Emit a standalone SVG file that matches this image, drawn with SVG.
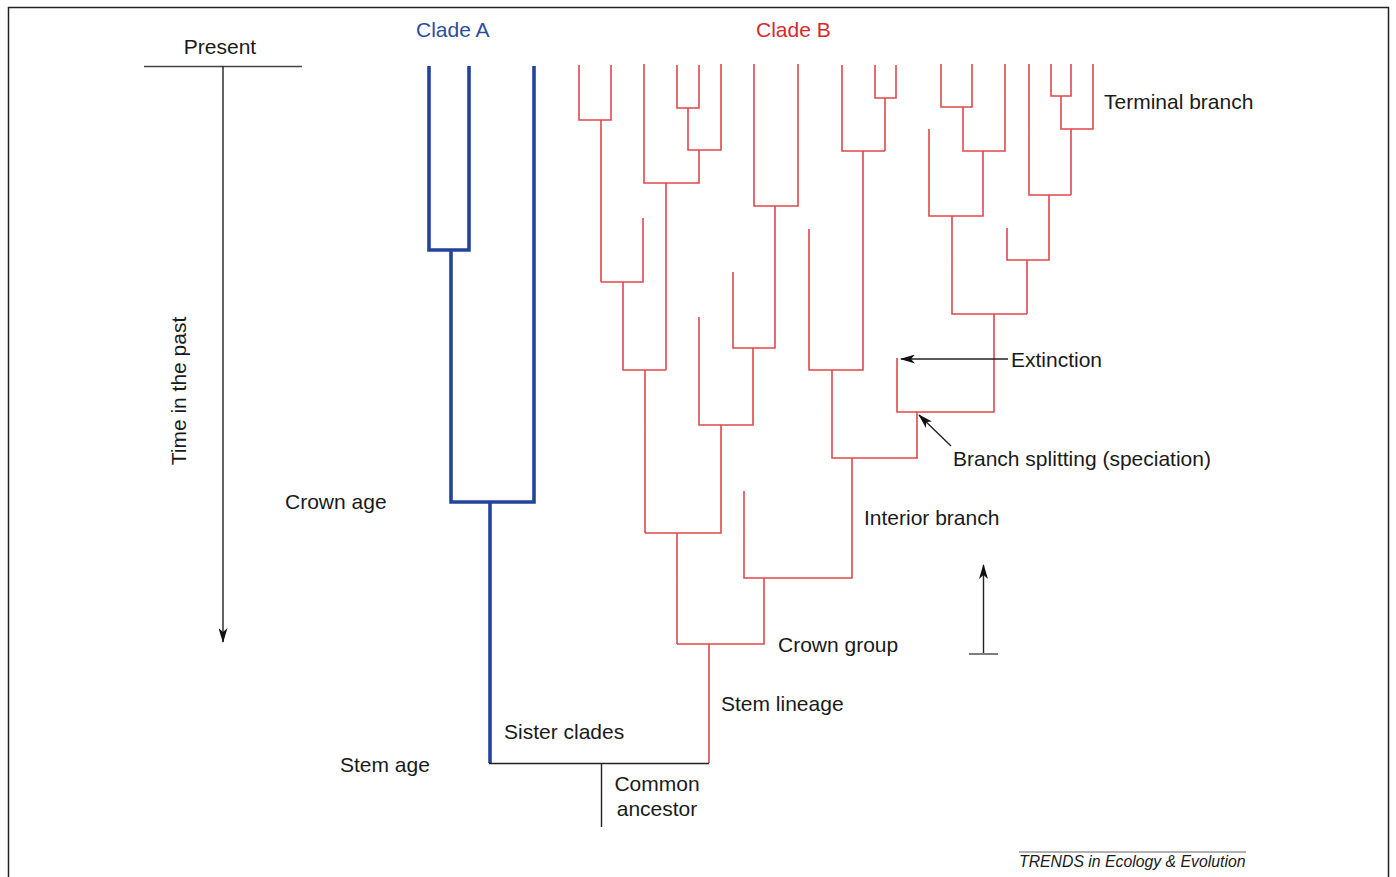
<svg xmlns="http://www.w3.org/2000/svg" width="1396" height="877" viewBox="0 0 1396 877">
<style>
text { font-family: "Liberation Sans", Arial, sans-serif; font-size: 21px; fill: #1a1a1a; }
.red { fill: none; stroke: #e0484c; stroke-width: 1.6; }
.blue { fill: none; stroke: #23449a; stroke-width: 3.6; }
.blk { fill: none; stroke: #222; stroke-width: 1.4; }
.gry { fill: none; stroke: #444; stroke-width: 1.4; }
</style>
<defs>
<marker id="ah" viewBox="0 0 15 9" refX="14" refY="4.5" markerWidth="15" markerHeight="9" markerUnits="userSpaceOnUse" orient="auto">
<path d="M0,0 L15,4.5 L0,9 L4,4.5 Z" fill="#111"/>
</marker>
</defs>
<rect x="0" y="0" width="1396" height="877" fill="#fff"/>
<rect x="8.5" y="7.5" width="1380" height="880" fill="none" stroke="#222" stroke-width="1.5"/>

<g id="time-axis">
<text x="220" y="54" text-anchor="middle">Present</text>
<line class="gry" x1="144" y1="66.5" x2="302" y2="66.5"/>
<line class="blk" x1="223" y1="66" x2="223" y2="642" marker-end="url(#ah)"/>
<text transform="translate(186,391) rotate(-90)" text-anchor="middle">Time in the past</text>
</g>

<g id="clade-a">
<text x="416" y="37" style="fill:#2b4d9c">Clade A</text>
<path class="blue" d="M429,66 V250 H469 V66 M451,250 V502 H534 V66 M490,502 V763"/>
</g>

<g id="clade-b">
<text x="756" y="37" style="fill:#d42a2e">Clade B</text>
<path class="red" d="M579,65 V120 H611 V65 M601,120 V282 M643,218 V282 H601 M623,282 V370 H666
M677,65 V108 H699 V65 M688,108 V150 H721 V64 M699,150 V183 H644 V64 M666,183 V370 M645,370 V533
M754,64 V206 H798 V64 M775,206 V348 H733 V272 M753,348 V425 H699 V317 M721,425 V533 H645 M677,533 V644
M842,65 V151 H885 M875,65 V98 H896 V65 M885,98 V151 M863,151 V370 H809 V229 M832,370 V458 H918
M941,64 V107 H972 V64 M963,107 V151 H1005 V64 M983,151 V216 H929 V129 M952,216 V314 H1027
M1029,64 V195 H1071 M1051,64 V96 H1071 V64 M1061,96 V129 H1093 V64 M1071,129 V195 M1049,195 V260 H1007 V228 M1027,260 V314
M994,314 V412 H897 V358 M917,412 V458
M852,458 V578 H744 V491 M764,578 V644 H677 M709,644 V763"/>
</g>

<g id="ancestor">
<path class="blk" d="M489,763.5 H709 M601.5,763 V827"/>
</g>

<g id="connectors">
<line class="blk" x1="1008" y1="359" x2="901" y2="359" marker-end="url(#ah)"/>
<line class="blk" x1="951" y1="446" x2="919" y2="415" marker-end="url(#ah)"/>
<line class="blk" x1="983.5" y1="653" x2="983.5" y2="565" marker-end="url(#ah)"/>
<line class="gry" x1="969" y1="654" x2="998" y2="654"/>
</g>

<g id="labels">
<text x="1104" y="109">Terminal branch</text>
<text x="1011" y="367">Extinction</text>
<text x="953" y="466">Branch splitting (speciation)</text>
<text x="864" y="525">Interior branch</text>
<text x="778" y="652">Crown group</text>
<text x="721" y="711">Stem lineage</text>
<text x="504" y="739">Sister clades</text>
<text x="657" y="791" text-anchor="middle">Common</text>
<text x="657" y="816" text-anchor="middle">ancestor</text>
<text x="285" y="509">Crown age</text>
<text x="340" y="772">Stem age</text>
</g>

<g id="footer">
<line x1="1019" y1="852" x2="1246" y2="852" stroke="#666" stroke-width="1.2"/>
<text x="1019" y="867" style="font-size:15.8px;font-style:italic">TRENDS in Ecology &amp; Evolution</text>
</g>
</svg>
